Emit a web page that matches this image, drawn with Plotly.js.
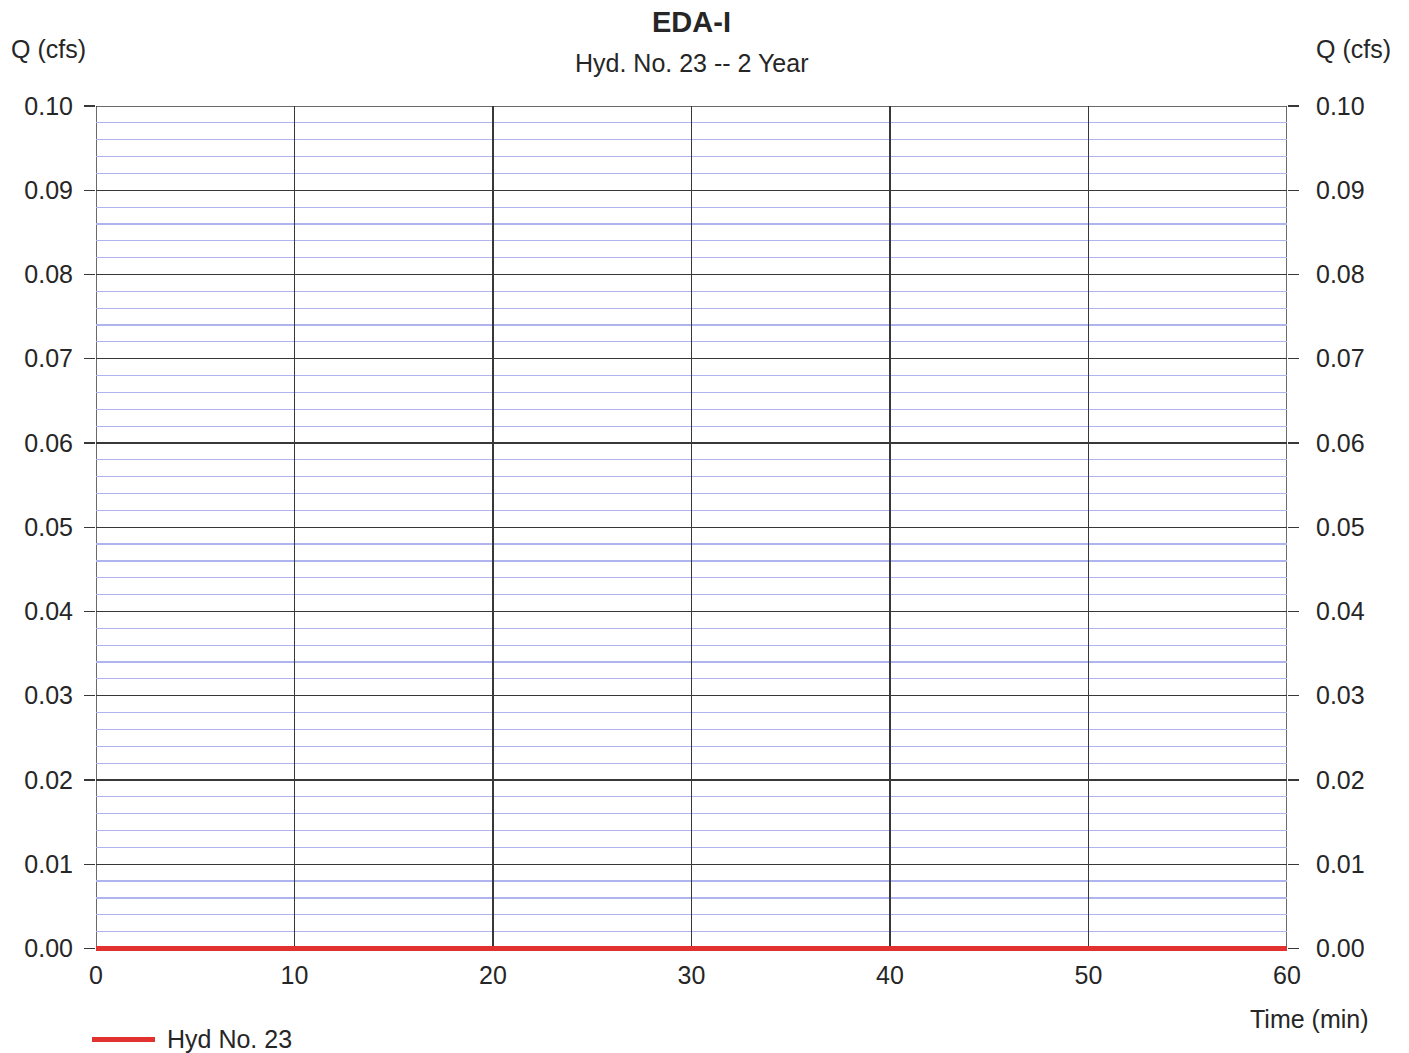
<!DOCTYPE html>
<html>
<head>
<meta charset="utf-8">
<script src="https://cdn.plot.ly/plotly-3.0.1.min.js"></script>
<style>
  html, body { margin: 0; padding: 0; background: #fff; }
  #chart { width: 1409px; height: 1053px; }
</style>
</head>
<body>
<div id="chart"></div>
<script>
// Data
const timeMin = [0, 10, 20, 30, 40, 50, 60];
const flowCfs = [0, 0, 0, 0, 0, 0, 0];
const seriesName = 'Hyd No. 23';
const chartTitle = 'EDA-I';
const chartSubtitle = 'Hyd. No. 23 -- 2 Year';
const yTickVals = [0.00, 0.01, 0.02, 0.03, 0.04, 0.05, 0.06, 0.07, 0.08, 0.09, 0.10];
const yTickText = ['0.00', '0.01', '0.02', '0.03', '0.04', '0.05', '0.06', '0.07', '0.08', '0.09', '0.10'];
const xTickVals = [0, 10, 20, 30, 40, 50, 60];

const FONT = 'Liberation Sans, Arial, sans-serif';
const TXT = '#262626';
const GRID = '#383838';
const RED = '#e2322f';
const FS = 25;

// plot-area geometry (pixels)
const M = { l: 96, r: 122, t: 106, b: 101.5 };
const PW = 1409 - M.l - M.r;
const PH = 1053 - M.t - M.b;
const BOTTOM = 1053 - M.b;
const px = (x) => (x - M.l) / PW;
const py = (y) => (BOTTOM - y) / PH;

const trace = {
  x: timeMin,
  y: flowCfs,
  type: 'scatter',
  mode: 'lines',
  name: seriesName,
  line: { color: RED, width: 5 },
  showlegend: false
};

// invisible trace to bind the right-hand axis
const rightTrace = {
  x: timeMin,
  y: flowCfs,
  yaxis: 'y2',
  type: 'scatter',
  mode: 'lines',
  line: { width: 0 },
  hoverinfo: 'skip',
  showlegend: false,
  opacity: 0
};

const yRange = [-0.0003, 0.1];

const layout = {
  width: 1409,
  height: 1053,
  paper_bgcolor: '#ffffff',
  plot_bgcolor: '#ffffff',
  margin: { l: M.l, r: M.r, t: M.t, b: M.b, autoexpand: false },
  font: { family: FONT, color: TXT, size: FS },
  showlegend: false,
  xaxis: {
    range: [0, 60],
    tickvals: xTickVals,
    ticks: '',
    showgrid: true,
    gridcolor: GRID,
    gridwidth: 1.4,
    zeroline: false,
    showline: false,
    ticklabelstandoff: 7,
    tickfont: { family: FONT, size: FS, color: TXT }
  },
  yaxis: {
    range: yRange,
    tickvals: yTickVals,
    ticktext: yTickText,
    ticks: 'outside',
    ticklen: 11,
    tickcolor: GRID,
    tickwidth: 1.4,
    ticklabelstandoff: 6,
    showgrid: true,
    gridcolor: GRID,
    gridwidth: 1.4,
    zeroline: false,
    showline: false,
    tickfont: { family: FONT, size: FS, color: TXT },
    minor: { dtick: 0.002, tick0: 0, showgrid: true, gridcolor: '#b0b4ee', gridwidth: 1.2, ticks: '' }
  },
  yaxis2: {
    overlaying: 'y',
    side: 'right',
    range: yRange,
    tickvals: yTickVals,
    ticktext: yTickText,
    ticks: 'outside',
    ticklen: 11,
    tickcolor: GRID,
    tickwidth: 1.4,
    ticklabelstandoff: 12,
    showgrid: false,
    zeroline: false,
    showline: false,
    tickfont: { family: FONT, size: FS, color: TXT }
  },
  annotations: [
    { text: '<b>' + chartTitle + '</b>', xref: 'paper', yref: 'paper', x: px(691), y: py(22),
      xanchor: 'center', yanchor: 'middle', showarrow: false, font: { family: FONT, size: 29, color: TXT } },
    { text: chartSubtitle, xref: 'paper', yref: 'paper', x: px(691), y: py(63),
      xanchor: 'center', yanchor: 'middle', showarrow: false, font: { family: FONT, size: FS, color: TXT } },
    { text: 'Q (cfs)', xref: 'paper', yref: 'paper', x: px(48), y: py(49),
      xanchor: 'center', yanchor: 'middle', showarrow: false, font: { family: FONT, size: FS, color: TXT } },
    { text: 'Q (cfs)', xref: 'paper', yref: 'paper', x: px(1353), y: py(49),
      xanchor: 'center', yanchor: 'middle', showarrow: false, font: { family: FONT, size: FS, color: TXT } },
    { text: 'Time (min)', xref: 'paper', yref: 'paper', x: px(1309), y: py(1020),
      xanchor: 'center', yanchor: 'middle', showarrow: false, font: { family: FONT, size: FS, color: TXT } },
    // legend label
    { text: seriesName, xref: 'paper', yref: 'paper', x: px(165), y: py(1040),
      xanchor: 'left', yanchor: 'middle', showarrow: false, font: { family: FONT, size: FS, color: TXT } }
  ],
  shapes: [
    { type: 'line', xref: 'paper', yref: 'y', x0: 0, x1: 1, y0: 0.1, y1: 0.1, line: { color: GRID, width: 1.5 }, layer: 'above' },
    { type: 'line', xref: 'x', yref: 'paper', x0: 0, x1: 0, y0: 0, y1: 1, line: { color: GRID, width: 1.5 }, layer: 'below' },
    { type: 'line', xref: 'x', yref: 'paper', x0: 60, x1: 60, y0: 0, y1: 1, line: { color: GRID, width: 1.5 }, layer: 'below' },
    // legend swatch
    { type: 'line', xref: 'paper', yref: 'paper', x0: px(92), x1: px(155),
      y0: py(1040), y1: py(1040), line: { color: RED, width: 5 } }
  ]
};

Plotly.newPlot('chart', [trace, rightTrace], layout, { displayModeBar: false, staticPlot: true });
</script>
</body>
</html>
